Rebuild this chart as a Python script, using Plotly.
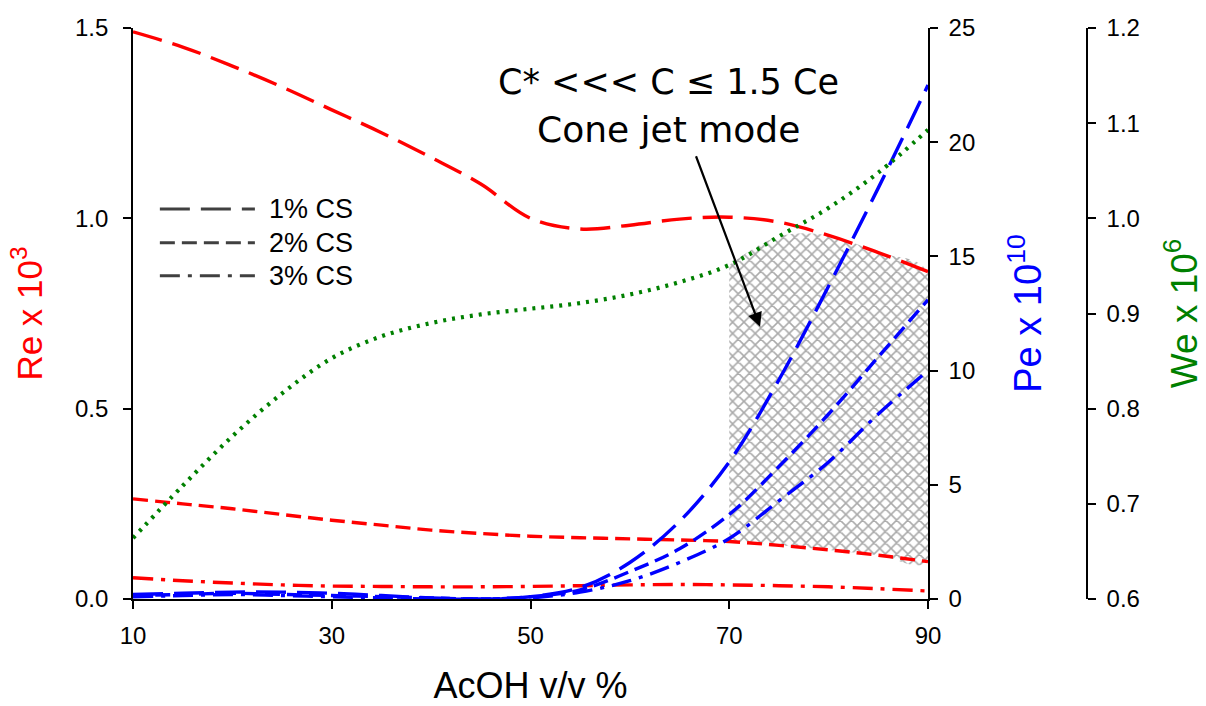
import plotly.graph_objects as go

# AcOH concentration (v/v %)
acoh = [10, 15, 20, 25, 30, 35, 40, 45, 50, 55, 60, 65, 70, 75, 80, 85, 90]

# Reynolds number (x 10^3) for each chitosan concentration
re_1cs = [1.49, 1.45, 1.40, 1.345, 1.285, 1.225, 1.16, 1.09, 1.0, 0.972, 0.982, 0.998, 1.003, 0.99, 0.955, 0.91, 0.86]
re_2cs = [0.263, 0.25, 0.237, 0.222, 0.207, 0.194, 0.181, 0.172, 0.165, 0.161, 0.158, 0.155, 0.151, 0.141, 0.129, 0.115, 0.098]
re_3cs = [0.056, 0.048, 0.042, 0.037, 0.034, 0.033, 0.032, 0.032, 0.033, 0.035, 0.037, 0.038, 0.037, 0.035, 0.032, 0.027, 0.021]

# Peclet number (x 10^10)
pe_1cs = [0.2, 0.25, 0.3, 0.3, 0.25, 0.15, 0.05, 0.0, 0.1, 0.5, 1.6, 3.4, 6.0, 9.6, 13.7, 18.0, 22.5]
pe_2cs = [0.15, 0.2, 0.25, 0.2, 0.15, 0.1, 0.05, 0.0, 0.1, 0.4, 1.2, 2.2, 3.7, 5.8, 8.1, 10.6, 13.1]
pe_3cs = [0.1, 0.15, 0.2, 0.15, 0.1, 0.05, 0.0, 0.0, 0.05, 0.3, 0.8, 1.6, 2.65, 4.3, 6.0, 8.1, 10.0]

# Weber number (x 10^6)
we = [0.664, 0.719, 0.771, 0.816, 0.853, 0.876, 0.890, 0.899, 0.905, 0.911, 0.920, 0.933, 0.951, 0.981, 1.011, 1.048, 1.093]

RE_RANGE = [0, 1.5]
PE_RANGE = [0, 25]
WE_RANGE = [0.6, 1.2]

RED, BLUE, GREEN = "#ff0000", "#0000ff", "#008000"
LONG, SHORT, DASHDOT = "30px,11px", "15px,7px", "20px,8px,4px,8px"
SANS = "Liberation Sans, Arial"

fig = go.Figure()

# Cone-jet region: between the 2% CS Re curve and the lower of (1% CS Re, We)
def we_on_re(v):
    return (v - WE_RANGE[0]) / (WE_RANGE[1] - WE_RANGE[0]) * (RE_RANGE[1] - RE_RANGE[0])

idx = [i for i, a in enumerate(acoh) if a >= 70]
top = [min(re_1cs[i], we_on_re(we[i])) for i in idx]
bot = [re_2cs[i] for i in idx]
xs = [acoh[i] for i in idx]
fig.add_trace(go.Scatter(
    x=xs + xs[::-1], y=top + bot[::-1], mode="lines", fill="toself",
    line=dict(width=0, shape="spline"), fillcolor="rgba(0,0,0,0)",
    fillpattern=dict(shape="x", fgcolor="#555555", bgcolor="white", size=8, solidity=0.35),
    hoverinfo="skip", showlegend=False))

for ys, dash in [(re_1cs, LONG), (re_2cs, SHORT), (re_3cs, DASHDOT)]:
    fig.add_trace(go.Scatter(x=acoh, y=ys, mode="lines", showlegend=False,
                             line=dict(color=RED, width=3.4, dash=dash, shape="spline")))

for ys, dash in [(pe_1cs, LONG), (pe_2cs, SHORT), (pe_3cs, DASHDOT)]:
    fig.add_trace(go.Scatter(x=acoh, y=ys, yaxis="y2", mode="lines", showlegend=False,
                             line=dict(color=BLUE, width=3.4, dash=dash, shape="spline")))

fig.add_trace(go.Scatter(x=acoh, y=we, yaxis="y3", mode="lines", showlegend=False,
                         line=dict(color=GREEN, width=4.2, dash="3px,6px", shape="spline")))

# Line-style key
key = [("1% CS", LONG), ("2% CS", SHORT), ("3% CS", DASHDOT)]
key_y = [0.683, 0.624, 0.566]
for (label, dash), ky in zip(key, key_y):
    fig.add_shape(type="line", xref="paper", yref="paper", x0=0.026, x1=0.118, y0=ky, y1=ky,
                  line=dict(color="#404040", width=3, dash=dash))
    fig.add_annotation(xref="paper", yref="paper", x=0.130, y=ky, text=label, showarrow=False,
                       xanchor="left", yanchor="middle",
                       font=dict(family=SANS, size=27, color="black"))

# Region label and pointer
label_font = dict(family="DejaVu Sans", size=35, color="black")
fig.add_annotation(x=63.9, y=1.358, text="C* &lt;&lt;&lt; C ≤ 1.5 Ce", showarrow=False,
                   font=label_font)
fig.add_annotation(x=63.9, y=1.233, text="Cone jet mode", showarrow=False,
                   font=dict(label_font, size=36))
fig.add_annotation(x=73.1, y=0.715, ax=66.6, ay=1.167, axref="x", ayref="y",
                   text="", showarrow=True, arrowhead=2, arrowsize=1.3, arrowwidth=2.2,
                   arrowcolor="black")

tickfont = dict(family=SANS, size=24, color="black")
axis_common = dict(showline=True, linecolor="black", linewidth=1.6, ticks="outside",
                   ticklen=8, tickwidth=1.6, tickcolor="black", showgrid=False,
                   zeroline=False, tickfont=tickfont, automargin=False)

fig.update_layout(
    width=1206, height=706,
    margin=dict(l=133, r=40, t=28, b=107),
    plot_bgcolor="white", paper_bgcolor="white",
    xaxis=dict(range=[10, 90], tickvals=[10, 30, 50, 70, 90], domain=[0, 795 / 1033],
               title=dict(text="AcOH v/v %", standoff=27,
                          font=dict(family=SANS, size=36, color="black")),
               ticklabelstandoff=6, **axis_common),
    yaxis=dict(range=RE_RANGE, tickvals=[0, 0.5, 1.0, 1.5], tickformat=".1f",
               title=dict(text="Re x 10<sup>3</sup>", standoff=22,
                          font=dict(family=SANS, size=35, color=RED)),
               ticklabelstandoff=10, **axis_common),
    yaxis2=dict(range=PE_RANGE, tickvals=[0, 5, 10, 15, 20, 25], overlaying="y", side="right",
                anchor="x",
                title=dict(text="Pe x 10<sup>10</sup>", standoff=40,
                           font=dict(family=SANS, size=38, color=BLUE)),
                ticklabelstandoff=6, **axis_common),
    yaxis3=dict(range=WE_RANGE, tickvals=[0.6, 0.7, 0.8, 0.9, 1.0, 1.1, 1.2], tickformat=".1f",
                overlaying="y", side="right", anchor="free", position=954 / 1033,
                title=dict(text="We x 10<sup>6</sup>", standoff=31,
                           font=dict(family=SANS, size=37, color=GREEN)),
                ticklabelstandoff=6, **axis_common),
)

fig.write_html("out.html")
